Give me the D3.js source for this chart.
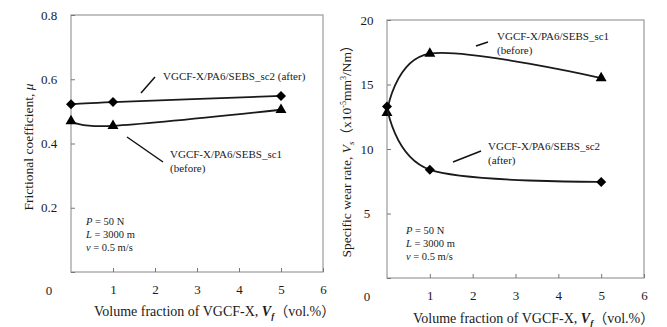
<!DOCTYPE html>
<html>
<head>
<meta charset="utf-8">
<script src="https://cdn.jsdelivr.net/npm/d3@7/dist/d3.min.js"></script>
<style>
  html, body { margin: 0; padding: 0; background: #fff; }
  svg { display: block; }
  text { font-family: "Liberation Serif", "Noto Sans CJK JP", serif; fill: #1a1a1a; }
</style>
</head>
<body>
<svg id="chart" width="667" height="327"></svg>
<script>
const SERIF = '"Liberation Serif","Noto Sans CJK JP",serif';

// Volume fraction of VGCF-X (vol.%)
const vf = [0, 1, 5];

// Frictional coefficient
const muSc2After = [0.522, 0.529, 0.548];
const muSc1Before = [0.470, 0.455, 0.505];

// Specific wear rate (x10^-5 mm^3/Nm)
const wearSc1Before = [12.8, 17.4, 15.5];
const wearSc2After = [13.3, 8.4, 7.45];

const xTicks = [1, 2, 3, 4, 5, 6];
const muTicks = [0, 0.2, 0.4, 0.6, 0.8];
const wearTicks = [0, 5, 10, 15, 20];

const conditions = [
  [{t: "P", i: true}, {t: " = 50 N"}],
  [{t: "L", i: true}, {t: " = 3000 m"}],
  [{t: "v", i: true}, {t: " = 0.5 m/s"}]
];

const svg = d3.select("#chart");

function panel(opt) {
  const g = svg.append("g");
  const x = d3.scaleLinear().domain([0, 6]).range([opt.x0, opt.x1]);
  const y = d3.scaleLinear().domain(opt.yDomain).range([opt.y1, opt.y0]);

  // plot frame
  g.append("rect")
    .attr("x", opt.x0).attr("y", opt.y0)
    .attr("width", opt.x1 - opt.x0).attr("height", opt.y1 - opt.y0)
    .attr("fill", "none").attr("stroke", "#9a9a9a").attr("stroke-width", 1.2);

  // x axis: inward ticks, labels below
  const xa = g.append("g").attr("transform", `translate(0,${opt.y1})`)
    .call(d3.axisBottom(x).tickValues(xTicks).tickSize(-4).tickPadding(13).tickFormat(d3.format("d")));
  xa.attr("font-family", SERIF);
  xa.select(".domain").remove();
  xa.selectAll("line").attr("stroke", "#777");
  xa.selectAll("text").attr("font-size", 13).attr("fill", "#222").style("font-family", SERIF);

  // y axis: inward ticks, centred labels; the zero label sits on the x-label row
  const ya = g.append("g").attr("transform", `translate(${opt.x0},0)`)
    .call(d3.axisLeft(y).tickValues(opt.yTicks).tickSize(-4).tickPadding(0).tickFormat(opt.fmt));
  ya.attr("font-family", SERIF);
  ya.select(".domain").remove();
  ya.selectAll("line").attr("stroke", "#777");
  ya.selectAll("text").attr("font-size", 13).attr("fill", "#222")
    .attr("text-anchor", "middle").attr("x", -opt.labelOff).style("font-family", SERIF);
  ya.selectAll(".tick").filter(d => d === 0).select("text").attr("dy", "1.75em");

  const line = d3.line()
    .x((d, i) => x(vf[i]))
    .y(d => y(d))
    .curve(d3.curveCardinal.tension(0));

  const diamond = d3.symbol().type(d3.symbolSquare).size(50);
  const triangle = d3.symbol().type(d3.symbolTriangle).size(52);

  opt.series.forEach(s => {
    g.append("path").attr("d", line(s.values))
      .attr("fill", "none").attr("stroke", "#1a1a1a").attr("stroke-width", 1.8);
    g.selectAll(null).data(s.values).enter().append("path")
      .attr("d", s.marker === "diamond" ? diamond : triangle)
      .attr("transform", (d, i) => `translate(${x(vf[i])},${y(d)})` + (s.marker === "diamond" ? " rotate(45)" : ""))
      .attr("fill", "#000");
  });

  // series annotations with leader lines
  opt.notes.forEach(n => {
    g.append("line")
      .attr("x1", n.lx1).attr("y1", n.ly1).attr("x2", n.lx2).attr("y2", n.ly2)
      .attr("stroke", "#111").attr("stroke-width", 1.5);
    n.lines.forEach((t, k) => {
      g.append("text").attr("x", n.tx).attr("y", n.ty + k * 14)
        .attr("font-size", 11).text(t);
    });
  });

  // test conditions
  conditions.forEach((row, k) => {
    const t = g.append("text").attr("x", opt.cx).attr("y", opt.cy + k * 13).attr("font-size", 10.5);
    row.forEach(p => t.append("tspan").attr("font-style", p.i ? "italic" : null).text(p.t));
  });

  // x-axis title
  const xt = g.append("text").attr("x", opt.xtx).attr("y", opt.xty).attr("font-size", 14);
  xt.append("tspan").text("Volume fraction of VGCF-X, ");
  xt.append("tspan").attr("font-weight", "bold").attr("font-style", "italic").text("V");
  xt.append("tspan").attr("font-weight", "bold").attr("font-style", "italic")
    .attr("font-size", 9).attr("dy", 3).text("f");
  xt.append("tspan").attr("dy", -3).text("（vol.%）");

  return g;
}

panel({
  x0: 71, x1: 323, y0: 15, y1: 272,
  yDomain: [0, 0.8], yTicks: muTicks, fmt: d => d === 0 ? "0" : d3.format(".1f")(d), labelOff: 22,
  series: [
    {values: muSc2After, marker: "diamond"},
    {values: muSc1Before, marker: "triangle"}
  ],
  notes: [
    {lx1: 141, ly1: 93, lx2: 155, ly2: 77, tx: 163, ty: 80, lines: ["VGCF-X/PA6/SEBS_sc2 (after)"]},
    {lx1: 127, ly1: 137, lx2: 163, ly2: 162, tx: 170, ty: 158, lines: ["VGCF-X/PA6/SEBS_sc1", "(before)"]}
  ],
  cx: 86, cy: 225,
  xtx: 94, xty: 316
});

panel({
  x0: 387, x1: 644, y0: 20, y1: 278,
  yDomain: [0, 20], yTicks: wearTicks, fmt: d3.format("d"), labelOff: 20,
  series: [
    {values: wearSc1Before, marker: "triangle"},
    {values: wearSc2After, marker: "diamond"}
  ],
  notes: [
    {lx1: 476, ly1: 46, lx2: 488, ly2: 42, tx: 497, ty: 40, lines: ["VGCF-X/PA6/SEBS_sc1", "(before)"]},
    {lx1: 453, ly1: 162, lx2: 481, ly2: 151, tx: 488, ty: 150, lines: ["VGCF-X/PA6/SEBS_sc2", "(after)"]}
  ],
  cx: 406, cy: 234,
  xtx: 413, xty: 323
});

// y-axis titles
svg.append("text")
  .attr("transform", "translate(33,147) rotate(-90)")
  .attr("text-anchor", "middle").attr("font-size", 13.5)
  .call(t => {
    t.append("tspan").text("Frictional coefficient, ");
    t.append("tspan").attr("font-style", "italic").text("μ");
  });

svg.append("text")
  .attr("transform", "translate(351,148) rotate(-90)")
  .attr("text-anchor", "middle").attr("font-size", 13.5)
  .call(t => {
    t.append("tspan").text("Specific wear rate, ");
    t.append("tspan").attr("font-style", "italic").text("V");
    t.append("tspan").attr("font-style", "italic").attr("font-size", 9).attr("dy", 3).text("s");
    t.append("tspan").attr("dy", -3).text("（x10");
    t.append("tspan").attr("font-size", 8).attr("dy", -5).text("-5");
    t.append("tspan").attr("dy", 5).text("mm");
    t.append("tspan").attr("font-size", 8).attr("dy", -5).text("3");
    t.append("tspan").attr("dy", 5).text("/Nm）");
  });
</script>
</body>
</html>
